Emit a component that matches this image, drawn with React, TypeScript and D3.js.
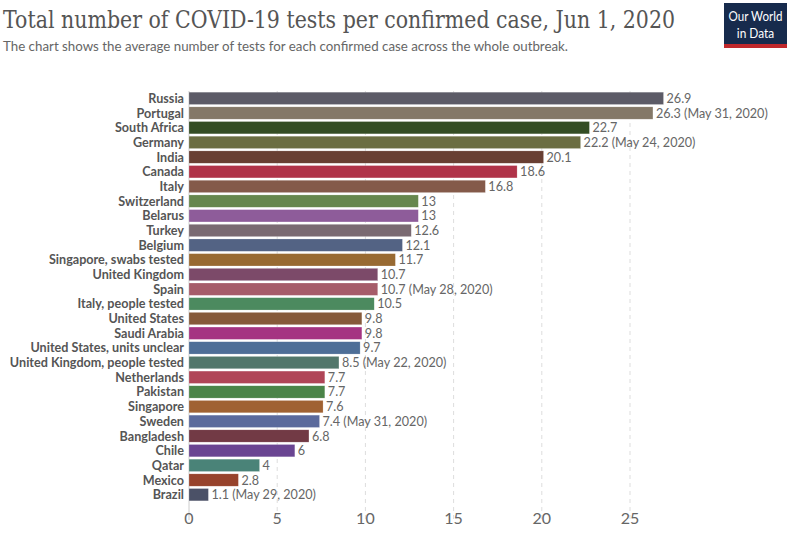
import React from "react";
import * as d3 from "d3";

const countries = [
  "Russia", "Portugal", "South Africa", "Germany", "India", "Canada", "Italy",
  "Switzerland", "Belarus", "Turkey", "Belgium", "Singapore, swabs tested",
  "United Kingdom", "Spain", "Italy, people tested", "United States", "Saudi Arabia",
  "United States, units unclear", "United Kingdom, people tested", "Netherlands",
  "Pakistan", "Singapore", "Sweden", "Bangladesh", "Chile", "Qatar", "Mexico", "Brazil",
];
const values = [
  26.9, 26.3, 22.7, 22.2, 20.1, 18.6, 16.8, 13, 13, 12.6, 12.1, 11.7, 10.7, 10.7,
  10.5, 9.8, 9.8, 9.7, 8.5, 7.7, 7.7, 7.6, 7.4, 6.8, 6, 4, 2.8, 1.1,
];
const dateNotes = [
  "", "(May 31, 2020)", "", "(May 24, 2020)", "", "", "", "", "", "", "", "",
  "", "(May 28, 2020)", "", "", "", "", "(May 22, 2020)", "", "", "", "(May 31, 2020)",
  "", "", "", "", "(May 29, 2020)",
];
const colors = [
  "#5c5b67", "#847868", "#344d24", "#6b6e42", "#683f33", "#b03349", "#845a4a",
  "#66874d", "#8e5c9a", "#7a6a72", "#536384", "#986a32", "#7c4a69", "#a65c6a",
  "#4c8a5f", "#865a3a", "#a53482", "#4e6e97", "#52776b", "#b04557", "#4b8448",
  "#a06232", "#5b6a9c", "#723a45", "#6a4592", "#4a8378", "#97432c", "#4b5167",
];
const xTicks = [0, 5, 10, 15, 20, 25];

const W = 789;
const H = 549;
const left = 189;
const top = 91;
const plotBottom = 520;

// squeeze text horizontally around its anchor point
const squeeze = (ax: number, k: number) => `translate(${ax},0) scale(${k},1) translate(${-ax},0)`;

const App = () => {
  const x = d3.scaleLinear().domain([0, 25]).range([left, 630]);
  const y = d3
    .scaleBand()
    .domain(countries)
    .range([top, top + 14.68 * countries.length])
    .paddingInner(0.16)
    .paddingOuter(0.08);

  return (
    <svg
      width={W}
      height={H}
      style={{ position: "absolute", left: 0, top: 0 }}
      fontFamily="Lato, 'Open Sans', sans-serif"
    >
      <rect width={W} height={H} fill="#fff" />
      <text
        x={3}
        y={28}
        fontFamily="'DejaVu Serif', 'Liberation Serif', serif"
        fontSize={24}
        fill="#555"
        textLength={672}
        lengthAdjust="spacingAndGlyphs"
      >
        Total number of COVID-19 tests per confirmed case, Jun 1, 2020
      </text>
      <text x={3} y={51} fontSize={14} fill="#666" textLength={565} lengthAdjust="spacingAndGlyphs">
        The chart shows the average number of tests for each confirmed case across the whole outbreak.
      </text>

      <g>
        <rect x={724} y={3} width={63} height={45} fill="#172b4d" />
        <rect x={724} y={44} width={63} height={4} fill="#c0282c" />
        <text x={755.5} y={21} textAnchor="middle" fill="#fff" fontSize={13.5} transform={squeeze(755.5, 0.86)}>
          Our World
        </text>
        <text x={755.5} y={38} textAnchor="middle" fill="#fff" fontSize={13.5} transform={squeeze(755.5, 0.88)}>
          in Data
        </text>
      </g>

      {xTicks.slice(1).map((t) => (
        <line
          key={t}
          x1={x(t)}
          x2={x(t)}
          y1={top}
          y2={plotBottom}
          stroke="#ddd"
          strokeDasharray="4,4"
        />
      ))}
      <line x1={x(0)} x2={x(0)} y1={top} y2={plotBottom} stroke="#ccc" />

      {countries.map((c, i) => {
        const y0 = y(c) as number;
        const bh = y.bandwidth();
        const xe = x(values[i]);
        const label = dateNotes[i] ? `${values[i]} ${dateNotes[i]}` : `${values[i]}`;
        return (
          <g key={c}>
            <text
              x={left - 5}
              y={y0 + bh / 2}
              dy="0.35em"
              textAnchor="end"
              fontSize={13}
              fontWeight="bold"
              fill="#555"
              transform={squeeze(left - 5, 0.97)}
            >
              {c}
            </text>
            <rect
              x={x(0)}
              y={y0}
              width={xe - x(0)}
              height={bh}
              fill={colors[i]}
              stroke="#fff"
              strokeOpacity={0.4}
              strokeWidth={0.5}
            />
            <text
              x={xe + 3}
              y={y0 + bh / 2}
              dy="0.35em"
              fontSize={13}
              fill="#666"
              transform={squeeze(xe + 3, 0.97)}
            >
              {label}
            </text>
          </g>
        );
      })}

      {xTicks.map((t) => (
        <text key={t} x={x(t)} y={524} textAnchor="middle" fontSize={16} fill="#666">
          {t}
        </text>
      ))}
    </svg>
  );
};

export default App;
